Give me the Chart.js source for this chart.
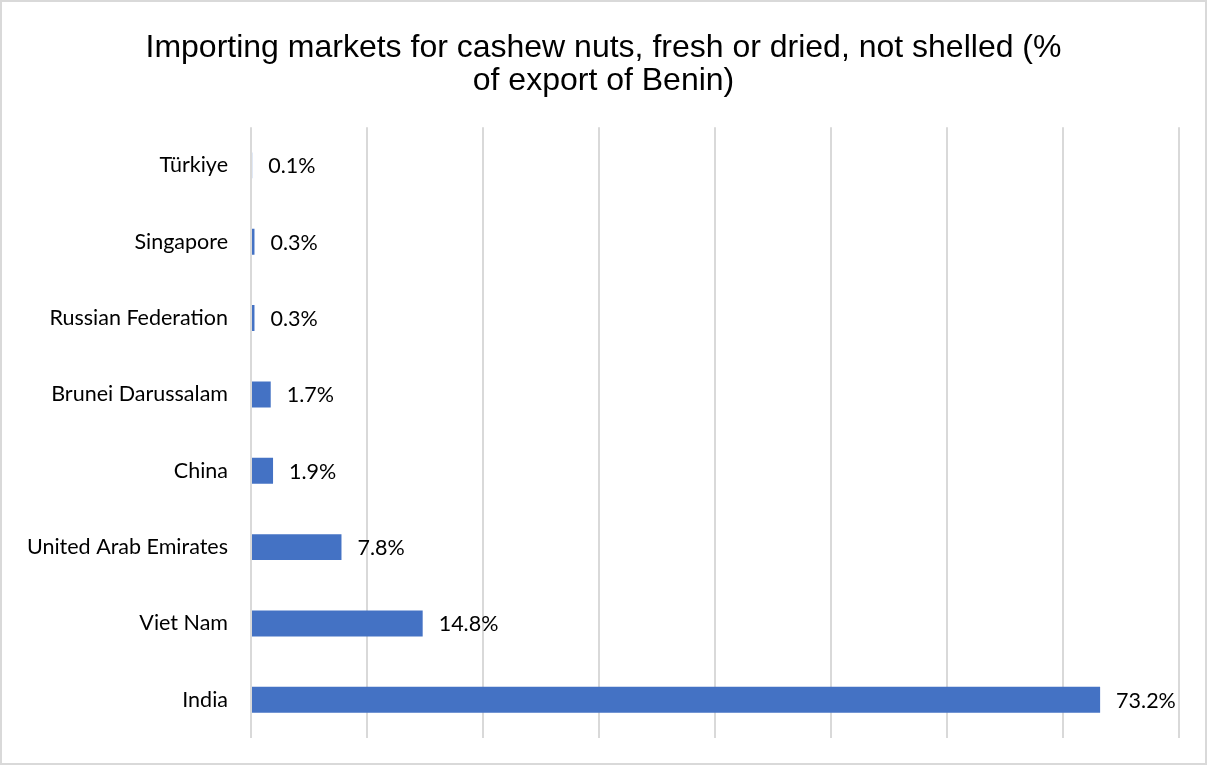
<!DOCTYPE html>
<html lang="en">
<head>
    <meta charset="UTF-8">
    <title>Importing markets for cashew nuts</title>
    <script src="https://cdn.jsdelivr.net/npm/chart.js"></script>
    <style>
        body { margin: 0; background: #fff; }
        .frame {
            width: 1207px;
            height: 765px;
            box-sizing: border-box;
            border: 2px solid #d9d9d9;
            background: #fff;
        }
    </style>
</head>
<body>
    <div class="frame">
        <canvas id="markets-chart" width="1203" height="761"></canvas>
    </div>

    <script>
        // Markets, top to bottom
        const markets = ['Türkiye', 'Singapore', 'Russian Federation', 'Brunei Darussalam',
                         'China', 'United Arab Emirates', 'Viet Nam', 'India'];
        // Share of Benin's export (%)
        const shares = [0.1, 0.3, 0.3, 1.7, 1.9, 7.8, 14.8, 73.2];
        const titleLines = ['Importing markets for cashew nuts, fresh or dried, not shelled (%',
                            'of export of Benin)'];

        const labelFont = '21.5px Lato, "Open Sans", sans-serif';

        // Value labels to the right of each bar
        const barLabels = {
            id: 'barLabels',
            afterDatasetsDraw(chart) {
                const ctx = chart.ctx;
                const meta = chart.getDatasetMeta(0);
                ctx.save();
                ctx.font = labelFont;
                ctx.fillStyle = '#000';
                ctx.textAlign = 'left';
                ctx.textBaseline = 'middle';
                meta.data.forEach((bar, i) => {
                    ctx.fillText(shares[i].toFixed(1) + '%', bar.x + 16, bar.y + 1);
                });
                ctx.restore();
            }
        };

        const ctx = document.getElementById('markets-chart').getContext('2d');
        new Chart(ctx, {
            type: 'bar',
            data: {
                labels: markets,
                datasets: [{
                    data: shares,
                    backgroundColor: '#4472c4',
                    borderWidth: 0,
                    barPercentage: 0.34,
                    categoryPercentage: 1
                }]
            },
            options: {
                indexAxis: 'y',
                responsive: false,
                animation: false,
                layout: { padding: { top: 29, right: 26, bottom: 25, left: 26 } },
                plugins: {
                    legend: { display: false },
                    tooltip: { enabled: false },
                    title: {
                        display: true,
                        text: titleLines,
                        color: '#000',
                        font: { family: '"Liberation Sans", Arial, sans-serif', size: 32, weight: 'normal', lineHeight: 1.05 },
                        padding: { top: 0, bottom: 29 }
                    }
                },
                scales: {
                    x: {
                        min: 0,
                        max: 80,
                        ticks: { display: false, stepSize: 10 },
                        grid: { color: '#d9d9d9', lineWidth: 2, drawTicks: false },
                        border: { display: false },
                        afterFit(scale) { scale.height = 0; }
                    },
                    y: {
                        grid: { display: false },
                        border: { display: false },
                        ticks: {
                            color: '#000',
                            padding: 15,
                            font: { family: 'Lato, "Open Sans", sans-serif', size: 21.5 }
                        },
                        afterFit(scale) {
                            scale.width = 223;
                            // keep the label half-heights from pushing the plot area in
                            scale.paddingTop = 0;
                            scale.paddingBottom = 0;
                        }
                    }
                }
            },
            plugins: [barLabels]
        });
    </script>
</body>
</html>
